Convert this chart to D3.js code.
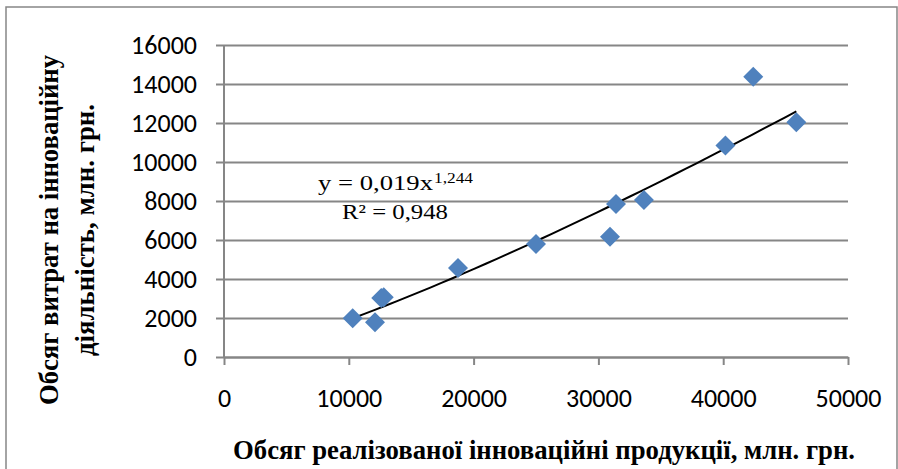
<!DOCTYPE html>
<html>
<head>
<meta charset="utf-8">
<script src="https://cdnjs.cloudflare.com/ajax/libs/d3/7.8.5/d3.min.js"></script>
<style>
  body { margin: 0; background: #fff; }
  svg { display: block; }
</style>
</head>
<body>
<div id="chart"></div>
<script>
// Realized innovative products (x) vs innovation expenditures (y), mln UAH
const productVolume = [10310, 12100, 12600, 12800, 18750, 25000, 30930, 31410, 33650, 40180, 42410, 45860]
const expenditure   = [1985, 1780, 3020, 3060, 4560, 5795, 6170, 7850, 8050, 10840, 14370, 12040]
const xTicks = [0, 10000, 20000, 30000, 40000, 50000]
const yTicks = [0, 2000, 4000, 6000, 8000, 10000, 12000, 14000, 16000]
const equationText = 'y = 0,019x'
const exponentText = '1,244'
const r2Text = 'R² = 0,948'
const xTitle = 'Обсяг реалізованої інноваційні продукції, млн. грн.'
const yTitleLines = ['Обсяг витрат на інноваційну', 'діяльність, млн. грн.']

const W = 898, H = 469
const plot = { left: 224, right: 848, top: 45, bottom: 357 }
const gridColor = '#868686'
const serif = '"Liberation Serif", "Times New Roman", serif'
const sans = 'Carlito, Calibri, "Liberation Sans", Arial, sans-serif'

const svg = d3.select('#chart').append('svg').attr('width', W).attr('height', H)

// outer frame
svg.append('rect').attr('x', 6).attr('y', 7).attr('width', 891).attr('height', 480)
  .attr('fill', '#fff').attr('stroke', gridColor).attr('stroke-width', 1.5)

const x = d3.scaleLinear().domain([0, 50000]).range([plot.left, plot.right])
const y = d3.scaleLinear().domain([0, 16000]).range([plot.bottom, plot.top])

// ── Y axis with gridlines ─────────────────────────────────────────────
const yAxis = svg.append('g').attr('transform', `translate(${plot.left},0)`)
  .call(d3.axisLeft(y).tickValues(yTicks).tickSize(-(plot.right - plot.left)).tickPadding(27).tickFormat(d3.format('d')))
yAxis.select('.domain').remove()
yAxis.selectAll('line').attr('stroke', gridColor).attr('stroke-width', 2).attr('x1', -8)
yAxis.selectAll('text').attr('fill', '#000').style('font-family', sans).style('font-size', '26px')

svg.append('line').attr('x1', plot.left).attr('x2', plot.left).attr('y1', plot.top).attr('y2', plot.bottom)
  .attr('stroke', gridColor).attr('stroke-width', 2)

// ── X axis ────────────────────────────────────────────────────────────
const xAxis = svg.append('g').attr('transform', `translate(0,${plot.bottom})`)
  .call(d3.axisBottom(x).tickValues(xTicks).tickSize(8).tickPadding(24).tickSizeOuter(0).tickFormat(d3.format('d')))
xAxis.select('.domain').attr('stroke', gridColor).attr('stroke-width', 2)
xAxis.selectAll('line').attr('stroke', gridColor).attr('stroke-width', 2)
xAxis.selectAll('text').attr('fill', '#000').style('font-family', sans).style('font-size', '26px')

// ── Power trendline (least squares on ln x, ln y) ──────────────────────
const lx = productVolume.map(Math.log), ly = expenditure.map(Math.log)
const mx = d3.mean(lx), my = d3.mean(ly)
const b = d3.sum(lx, (v, i) => (v - mx) * (ly[i] - my)) / d3.sum(lx, v => (v - mx) ** 2)
const a = Math.exp(my - b * mx)
const [xMin, xMax] = d3.extent(productVolume)
const trendPts = d3.range(0, 41).map(i => xMin + (xMax - xMin) * i / 40)
svg.append('path')
  .datum(trendPts)
  .attr('fill', 'none').attr('stroke', '#000').attr('stroke-width', 2)
  .attr('d', d3.line().x(d => x(d)).y(d => y(a * Math.pow(d, b))))

// ── Points ────────────────────────────────────────────────────────────
svg.append('g').selectAll('path')
  .data(productVolume.map((v, i) => [v, expenditure[i]]))
  .join('path')
  .attr('transform', d => `translate(${x(d[0])},${y(d[1])})`)
  .attr('d', 'M0,-10L10,0L0,10L-10,0Z')
  .attr('fill', '#4f81bd')

// ── Equation label ────────────────────────────────────────────────────
svg.append('text').attr('x', 318).attr('y', 190)
  .attr('textLength', 115).attr('lengthAdjust', 'spacingAndGlyphs')
  .style('font-family', serif).style('font-size', '21px').attr('fill', '#000').text(equationText)
svg.append('text').attr('x', 434).attr('y', 183)
  .attr('textLength', 39).attr('lengthAdjust', 'spacingAndGlyphs')
  .style('font-family', serif).style('font-size', '15px').attr('fill', '#000').text(exponentText)
svg.append('text').attr('x', 342).attr('y', 219)
  .attr('textLength', 106).attr('lengthAdjust', 'spacingAndGlyphs')
  .style('font-family', serif).style('font-size', '21px').attr('fill', '#000').text(r2Text)

// ── Axis titles ───────────────────────────────────────────────────────
svg.append('text').attr('x', 544).attr('y', 459).attr('text-anchor', 'middle')
  .attr('textLength', 622).attr('lengthAdjust', 'spacingAndGlyphs')
  .style('font-family', serif).style('font-size', '28px').style('font-weight', 'bold').text(xTitle)

const yTitleLen = [350, 252]
yTitleLines.forEach((line, i) => {
  svg.append('text')
    .attr('transform', `translate(${58 + i * 36},${230}) rotate(-90)`)
    .attr('text-anchor', 'middle')
    .attr('textLength', yTitleLen[i]).attr('lengthAdjust', 'spacingAndGlyphs')
    .style('font-family', serif).style('font-size', '28px').style('font-weight', 'bold').text(line)
})
</script>
</body>
</html>
